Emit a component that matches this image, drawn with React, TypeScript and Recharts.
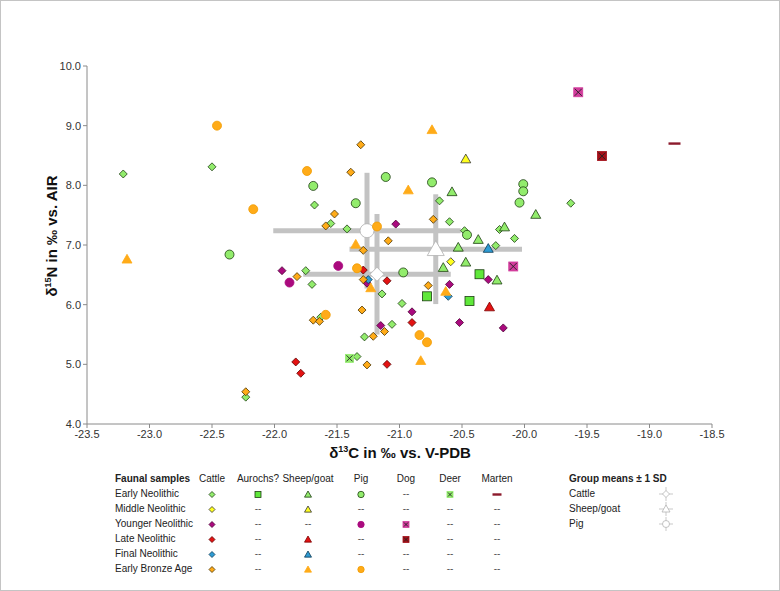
import React from 'react';
import { ScatterChart, Scatter, XAxis, YAxis, ErrorBar } from 'recharts';

// delta13C / delta15N readings per period and species
const enCattle = [
  [-23.21, 8.19], [-22.5, 8.31], [-21.68, 7.67], [-21.75, 6.57], [-21.7, 6.34], [-22.23, 4.45],
  [-21.55, 7.36], [-21.42, 7.27], [-21.14, 6.18], [-20.68, 7.74], [-20.6, 7.39], [-20.48, 7.24],
  [-20.23, 6.99], [-20.2, 7.26], [-20.08, 7.11], [-19.63, 7.7], [-20.98, 6.02], [-21.63, 5.79],
  [-21.06, 5.67], [-21.28, 5.46], [-21.34, 5.13],
];
const enAurochs = [[-20.36, 6.51], [-20.44, 6.06], [-20.78, 6.14]];
const enSheep = [
  [-20.58, 7.89], [-19.91, 7.51], [-20.37, 7.09], [-20.53, 6.96], [-20.47, 6.71], [-20.65, 6.62],
  [-20.22, 6.41], [-20.16, 7.3],
];
const enPig = [
  [-22.36, 6.84], [-21.69, 7.99], [-21.35, 7.7], [-21.11, 8.14], [-20.74, 8.05], [-20.46, 7.17],
  [-20.97, 6.54], [-20.01, 8.02], [-20.01, 7.9], [-20.04, 7.71],
];
const enDeer = [[-21.4, 5.1]];
const enMarten = [[-18.8, 8.7]];

const mnCattle = [[-20.59, 6.72]];
const mnSheep = [[-20.47, 8.44]];

const ynCattle = [
  [-21.94, 6.57], [-21.03, 7.35], [-20.29, 6.42], [-20.6, 6.34], [-20.9, 5.88], [-21.15, 5.65],
  [-20.52, 5.7], [-20.17, 5.61], [-21.26, 6.36],
];
const ynPig = [[-21.88, 6.37], [-21.49, 6.65]];
const ynDog = [[-19.57, 9.56], [-20.09, 6.64]];

const lnCattle = [[-21.83, 5.04], [-21.79, 4.85], [-21.1, 6.4], [-20.9, 5.7], [-21.1, 5.0], [-21.29, 6.58]];
const lnSheep = [[-20.28, 5.96]];
const lnDog = [[-19.38, 8.49]];

const fnCattle = [[-21.25, 6.42], [-20.61, 6.14]];
const fnSheep = [[-20.29, 6.94]];

const ebaCattle = [
  [-21.82, 6.47], [-21.69, 5.74], [-21.64, 5.72], [-22.23, 4.54], [-21.31, 8.68], [-21.39, 8.22],
  [-21.52, 7.52], [-21.59, 7.32], [-21.09, 7.07], [-21.29, 6.91], [-20.73, 7.43], [-21.29, 6.42],
  [-20.77, 6.32], [-21.3, 5.91], [-21.12, 5.55], [-21.21, 5.47], [-21.26, 4.99],
];
const ebaSheep = [
  [-23.18, 6.76], [-20.74, 8.93], [-20.93, 7.92], [-21.35, 7.01], [-21.23, 6.28], [-20.63, 6.22],
  [-20.83, 5.06],
];
const ebaPig = [
  [-22.46, 9.0], [-21.74, 8.24], [-22.17, 7.6], [-21.18, 7.31], [-21.34, 6.61], [-21.59, 5.83],
  [-20.84, 5.49], [-20.78, 5.37],
];

// group means with 1 SD in each direction
const meanNames = ['Cattle', 'Sheep/goat', 'Pig'];
const meanX = [-21.18, -20.71, -21.26];
const meanY = [6.51, 6.93, 7.24];
const sdX = [0.59, 0.69, 0.75];
const sdY = [1.01, 0.92, 0.97];

const xTicks = [-23.5, -23, -22.5, -22, -21.5, -21, -20.5, -20, -19.5, -19, -18.5];
const yTicks = [4, 5, 6, 7, 8, 9, 10];

const periods = ['Early Neolithic', 'Middle Neolithic', 'Younger Neolithic', 'Late Neolithic', 'Final Neolithic', 'Early Bronze Age'];
const species = ['Cattle', 'Aurochs?', 'Sheep/goat', 'Pig', 'Dog', 'Deer', 'Marten'];

const GREEN = '#92ec6c';
const AUROCHS = '#5fe83a';
const YELLOW = '#ffff1e';
const PURPLE = '#aa0a7e';
const PINK = '#d23c9c';
const RED = '#e31212';
const DARKRED = '#a30f18';
const BLUE = '#2e9bd3';
const ORANGE = '#ffab18';
const AXIS = '#8a8a8a';
const FONT = '"Liberation Sans", Arial, sans-serif';

type Kind = 'diamond' | 'triangle' | 'circle' | 'square' | 'xsquare' | 'dash';

function marker(kind: Kind, cx: number, cy: number, fill: string, stroke: string, s: number, key?: string) {
  const sw = 0.8;
  if (kind === 'diamond')
    return <polygon key={key} points={`${cx},${cy - s} ${cx + s},${cy} ${cx},${cy + s} ${cx - s},${cy}`} fill={fill} stroke={stroke} strokeWidth={sw} />;
  if (kind === 'triangle')
    return <polygon key={key} points={`${cx},${cy - s} ${cx + s},${cy + s * 0.75} ${cx - s},${cy + s * 0.75}`} fill={fill} stroke={stroke} strokeWidth={sw} />;
  if (kind === 'circle') return <circle key={key} cx={cx} cy={cy} r={s} fill={fill} stroke={stroke} strokeWidth={sw} />;
  if (kind === 'square')
    return <rect key={key} x={cx - s} y={cy - s} width={2 * s} height={2 * s} fill={fill} stroke={stroke} strokeWidth={sw} />;
  if (kind === 'xsquare')
    return (
      <g key={key}>
        <rect x={cx - s} y={cy - s} width={2 * s} height={2 * s} fill={fill} stroke={fill} strokeWidth={sw} />
        <path d={`M${cx - s + 1},${cy - s + 1}L${cx + s - 1},${cy + s - 1}M${cx + s - 1},${cy - s + 1}L${cx - s + 1},${cy + s - 1}`} stroke="#222" strokeWidth={0.9} />
      </g>
    );
  return <rect key={key} x={cx - s * 1.5} y={cy - 1.2} width={s * 3} height={2.4} fill={fill} />;
}

interface SeriesDef {
  data: number[][];
  kind: Kind;
  fill: string;
  stroke: string;
  size: number;
  row: number;
  col: number;
}

const series: SeriesDef[] = [
  { data: enCattle, kind: 'diamond', fill: GREEN, stroke: '#1d3d12', size: 4, row: 0, col: 0 },
  { data: enAurochs, kind: 'square', fill: AUROCHS, stroke: '#1d3d12', size: 4.5, row: 0, col: 1 },
  { data: enSheep, kind: 'triangle', fill: GREEN, stroke: '#1d3d12', size: 5, row: 0, col: 2 },
  { data: enPig, kind: 'circle', fill: GREEN, stroke: '#1d3d12', size: 4.5, row: 0, col: 3 },
  { data: enDeer, kind: 'xsquare', fill: GREEN, stroke: '#1d3d12', size: 4, row: 0, col: 5 },
  { data: enMarten, kind: 'dash', fill: '#8c1a2c', stroke: '#8c1a2c', size: 4, row: 0, col: 6 },
  { data: mnCattle, kind: 'diamond', fill: YELLOW, stroke: '#333', size: 4, row: 1, col: 0 },
  { data: mnSheep, kind: 'triangle', fill: YELLOW, stroke: '#333', size: 5, row: 1, col: 2 },
  { data: ynCattle, kind: 'diamond', fill: PURPLE, stroke: '#4a0034', size: 4, row: 2, col: 0 },
  { data: ynPig, kind: 'circle', fill: PURPLE, stroke: PURPLE, size: 4.5, row: 2, col: 3 },
  { data: ynDog, kind: 'xsquare', fill: PINK, stroke: PINK, size: 4.5, row: 2, col: 4 },
  { data: lnCattle, kind: 'diamond', fill: RED, stroke: '#5a0000', size: 4, row: 3, col: 0 },
  { data: lnSheep, kind: 'triangle', fill: RED, stroke: '#7a0000', size: 5, row: 3, col: 2 },
  { data: lnDog, kind: 'xsquare', fill: DARKRED, stroke: DARKRED, size: 4.5, row: 3, col: 4 },
  { data: fnCattle, kind: 'diamond', fill: BLUE, stroke: '#0d3a55', size: 4, row: 4, col: 0 },
  { data: fnSheep, kind: 'triangle', fill: BLUE, stroke: '#0d3a55', size: 5, row: 4, col: 2 },
  { data: ebaCattle, kind: 'diamond', fill: ORANGE, stroke: '#4a3300', size: 4, row: 5, col: 0 },
  { data: ebaSheep, kind: 'triangle', fill: ORANGE, stroke: ORANGE, size: 5, row: 5, col: 2 },
  { data: ebaPig, kind: 'circle', fill: ORANGE, stroke: '#f09a00', size: 4.5, row: 5, col: 3 },
];

const meanKinds: Kind[] = ['diamond', 'triangle', 'circle'];
const meanData = meanNames.map((name, i) => ({ name, x: meanX[i], y: meanY[i], sdx: sdX[i], sdy: sdY[i], kind: meanKinds[i] }));

const colX = [212, 258, 308, 361, 406, 450, 497];
const rowY = (i: number) => 494 + i * 15;

function LegendIcon({ kind, fill, stroke }: { kind: Kind; fill: string; stroke: string }) {
  const s = kind === 'triangle' ? 3.5 : kind === 'circle' ? 3.2 : 3;
  return (
    <svg width={14} height={12} style={{ position: 'absolute', left: -7, top: -6 }}>
      {marker(kind, 7, 6.5, fill, stroke, s)}
    </svg>
  );
}

function MeanIcon({ kind }: { kind: Kind }) {
  return (
    <svg width={22} height={22} style={{ position: 'absolute', left: -11, top: -11 }}>
      <path d="M4,11H18M11,4V18" stroke="#dcdcdc" strokeWidth={1.5} />
      {marker(kind, 11, 11, '#fff', '#b4b4b4', kind === 'triangle' ? 4 : 3.5)}
    </svg>
  );
}

const abs = (left: number, top: number, extra: React.CSSProperties = {}): React.CSSProperties => ({
  position: 'absolute', left, top, ...extra,
});

export default function App() {
  const text: React.CSSProperties = { fontFamily: FONT, fontSize: 10, color: '#222', whiteSpace: 'nowrap', lineHeight: '12px' };
  return (
    <div style={{ position: 'absolute', left: 0, top: 0, width: 780, height: 591, background: '#fff', overflow: 'hidden' }}>
      <div style={abs(0, 0, { width: 778, height: 589, border: '1px solid #c4c4c4' })} />
      <ScatterChart width={780} height={591} margin={{ top: 66, right: 68, bottom: 137, left: 0 }} style={{ position: 'absolute', left: 0, top: 0 }}>
        <XAxis
          type="number"
          dataKey="x"
          domain={[-23.5, -18.5]}
          ticks={xTicks}
          tickFormatter={(v: number) => v.toFixed(1)}
          height={30}
          stroke={AXIS}
          tickSize={4}
          tick={{ fill: '#333', fontSize: 11, fontFamily: FONT }}
          allowDataOverflow
        />
        <YAxis
          type="number"
          dataKey="y"
          domain={[4, 10]}
          ticks={yTicks}
          tickFormatter={(v: number) => v.toFixed(1)}
          width={87}
          stroke={AXIS}
          tickSize={4}
          tick={{ fill: '#333', fontSize: 11, fontFamily: FONT }}
          allowDataOverflow
        />
        <Scatter
          data={meanData}
          isAnimationActive={false}
          shape={(p: any) => marker(p.payload.kind, p.cx, p.cy, '#fff', '#b0b0b0', p.payload.kind === 'circle' ? 7 : p.payload.kind === 'triangle' ? 8.5 : 7)}
        >
          <ErrorBar dataKey="sdx" direction="x" width={0} stroke="#c3c3c3" strokeWidth={5} />
          <ErrorBar dataKey="sdy" direction="y" width={0} stroke="#c3c3c3" strokeWidth={5} />
        </Scatter>
        {series.map((s, i) => (
          <Scatter
            key={i}
            data={s.data.map(([x, y]) => ({ x, y }))}
            isAnimationActive={false}
            shape={(p: any) => marker(s.kind, p.cx, p.cy, s.fill, s.stroke, s.size)}
          />
        ))}
      </ScatterChart>

      <div style={abs(0, 444, { width: 800, textAlign: 'center', fontFamily: FONT, fontWeight: 'bold', fontSize: 15, color: '#111' })}>
        δ<sup style={{ fontSize: 9 }}>13</sup>C in ‰ vs. V-PDB
      </div>
      <div style={abs(51, 236, { transform: 'translate(-50%, -50%) rotate(-90deg)', fontFamily: FONT, fontWeight: 'bold', fontSize: 15, color: '#111', whiteSpace: 'nowrap' })}>
        δ<sup style={{ fontSize: 9 }}>15</sup>N in ‰ vs. AIR
      </div>

      <div style={abs(115, 473, { ...text, fontWeight: 'bold' })}>Faunal samples</div>
      {species.map((sp, c) => (
        <div key={sp} style={abs(colX[c] - 40, 473, { ...text, width: 80, textAlign: 'center' })}>{sp}</div>
      ))}
      {periods.map((p, r) => (
        <div key={p} style={abs(115, rowY(r) - 6, text)}>{p}</div>
      ))}
      {periods.map((p, r) =>
        species.map((sp, c) => {
          const s = series.find((d) => d.row === r && d.col === c);
          return (
            <div key={p + sp} style={abs(colX[c], rowY(r), { width: 0, height: 0 })}>
              {s ? (
                <LegendIcon kind={s.kind} fill={s.fill} stroke={s.stroke} />
              ) : (
                <div style={abs(-8, -6, { ...text, width: 16, textAlign: 'center', color: '#555' })}>--</div>
              )}
            </div>
          );
        })
      )}

      <div style={abs(569, 473, { ...text, fontWeight: 'bold' })}>Group means ± 1 SD</div>
      {meanNames.map((m, i) => (
        <React.Fragment key={m}>
          <div style={abs(569, rowY(i) - 6, text)}>{m}</div>
          <div style={abs(666, rowY(i), { width: 0, height: 0 })}>
            <MeanIcon kind={meanKinds[i]} />
          </div>
        </React.Fragment>
      ))}
    </div>
  );
}
